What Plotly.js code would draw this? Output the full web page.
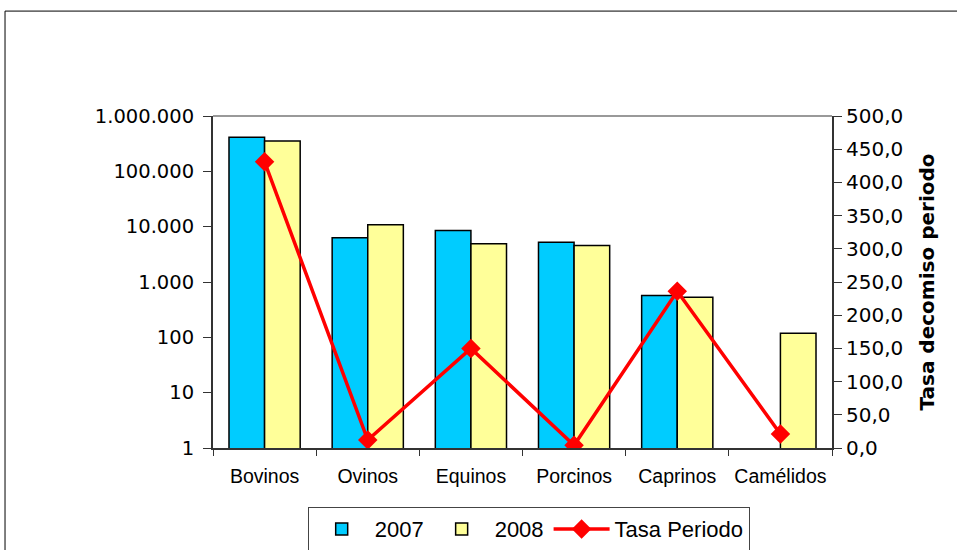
<!DOCTYPE html>
<html>
<head>
<meta charset="utf-8">
<script src="https://cdn.plot.ly/plotly-3.0.1.min.js"></script>
<style>html,body{margin:0;padding:0;background:#fff;}#chart{width:957px;height:550px;}</style>
</head>
<body>
<div id="chart"></div>
<script>
const categories = ["Bovinos", "Ovinos", "Equinos", "Porcinos", "Caprinos", "Camélidos"];
const values2007 = [415000, 6300, 8500, 5250, 570, null];
const values2008 = [355000, 10800, 4900, 4550, 530, 119];
const tasaPeriodo = [431, 12, 150, 4, 236, 21];
const leftTickVals = [1, 10, 100, 1000, 10000, 100000, 1000000];
const leftTickText = ["1", "10", "100", "1.000", "10.000", "100.000", "1.000.000"];
const rightTickVals = [0, 50, 100, 150, 200, 250, 300, 350, 400, 450, 500];

const FONT = "DejaVu Sans, Liberation Sans, Arial, sans-serif";
const ARIAL = "Liberation Sans, Arial, sans-serif";

const traces = [
  {type: "bar", name: "2007", x: categories, y: values2007,
   marker: {color: "#00CCFF", line: {color: "#000", width: 1.5}}},
  {type: "bar", name: "2008", x: categories, y: values2008,
   marker: {color: "#FFFF99", line: {color: "#000", width: 1.5}}},
  {type: "scatter", mode: "lines+markers", name: "Tasa Periodo", x: categories, y: tasaPeriodo,
   yaxis: "y2", line: {color: "#FF0000", width: 3.5},
   marker: {symbol: "diamond", size: 15, color: "#FF0000"}}
];

const layout = {
  width: 957, height: 550,
  margin: {l: 213, r: 125, t: 116, b: 102, autoexpand: false},
  paper_bgcolor: "#fff", plot_bgcolor: "#fff",
  separators: ",.",
  font: {family: FONT, color: "#000", size: 17},
  barmode: "group", bargap: 0.31, bargroupgap: 0,
  showlegend: true,
  legend: {orientation: "h", x: 0.51, xanchor: "center", y: -0.178, yanchor: "top",
           bordercolor: "#444", borderwidth: 1, font: {size: 22, family: ARIAL},
           itemwidth: 56, traceorder: "normal"},
  xaxis: {type: "category", tickson: "boundaries", ticks: "outside", ticklen: 6, tickangle: 0,
          tickcolor: "#333", showline: true, linecolor: "#333", linewidth: 2, ticklabelstandoff: 10,
          tickfont: {size: 19.5, family: ARIAL}, showgrid: false, zeroline: false},
  yaxis: {type: "log", range: [0, 6], tickvals: leftTickVals, ticktext: leftTickText,
          ticks: "outside", ticklen: 8, tickcolor: "#333", showline: true, linecolor: "#333",
          linewidth: 2, showgrid: false, zeroline: false, tickfont: {size: 19.5}, ticklabelstandoff: 5},
  yaxis2: {overlaying: "y", side: "right", range: [0, 500], tickvals: rightTickVals,
           tickformat: ".1f", ticks: "outside", ticklen: 8, tickcolor: "#333",
           showline: true, linecolor: "#333", linewidth: 2, showgrid: false, zeroline: false,
           tickfont: {size: 20}, ticklabelstandoff: 0,
           title: {text: "<b>Tasa decomiso periodo</b>", font: {size: 20, family: FONT}, standoff: 18}},
  shapes: [
    {type: "line", xref: "paper", yref: "paper", x0: 0, x1: 1, y0: 1, y1: 1,
     line: {color: "#999", width: 2}},
    {type: "rect", xref: "paper", yref: "paper", x0: -0.336, x1: 1.21, y0: -0.4, y1: 1.316,
     line: {color: "#000", width: 1}, layer: "below"}
  ]
};

Plotly.newPlot("chart", traces, layout, {displayModeBar: false, staticPlot: true});
</script>
</body>
</html>
